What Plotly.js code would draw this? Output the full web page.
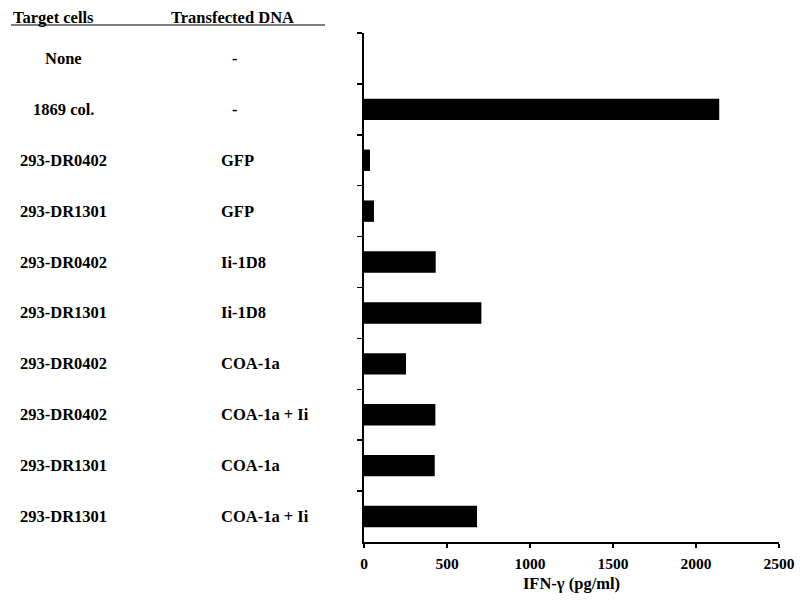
<!DOCTYPE html>
<html>
<head>
<meta charset="utf-8">
<script src="https://cdn.plot.ly/plotly-3.0.1.min.js"></script>
<style>
  html, body { margin: 0; padding: 0; background: #fff; }
  #chart { width: 800px; height: 605px; }
</style>
</head>
<body>
<div id="chart"></div>
<script>
// ---- data ----
const targetCells = ["None", "1869 col.", "293-DR0402", "293-DR1301", "293-DR0402", "293-DR1301",
                     "293-DR0402", "293-DR0402", "293-DR1301", "293-DR1301"];
const transfectedDNA = ["-", "-", "GFP", "GFP", "Ii-1D8", "Ii-1D8",
                        "COA-1a", "COA-1a + Ii", "COA-1a", "COA-1a + Ii"];
const ifnGamma = [0, 2140, 36, 60, 432, 707, 253, 430, 426, 681];
const xTickValues = [0, 500, 1000, 1500, 2000, 2500];
const headerTarget = "Target cells";
const headerDNA = "Transfected DNA";
const xTitle = "IFN-γ (pg/ml)";

// ---- layout helpers ----
const W = 800, H = 605;
const M = { l: 364, r: 21, t: 33, b: 63 };
const plotW = W - M.l - M.r, plotH = H - M.t - M.b;
const px2paperX = px => (px - M.l) / plotW;
const py2paperY = py => 1 - (py - M.t) / plotH;

const FONT = "Liberation Serif, Times New Roman, serif";
const rowIds = targetCells.map((t, i) => i + ": " + t + " / " + transfectedDNA[i]);

const annotations = [];
rowIds.forEach((id, i) => {
  annotations.push({
    xref: "paper", yref: "y", x: px2paperX(63), y: id,
    text: "<b>" + targetCells[i] + "</b>", showarrow: false,
    xanchor: "center", yanchor: "middle",
    font: { family: FONT, size: 16.5, color: "#000" }
  });
  const isDash = transfectedDNA[i] === "-";
  annotations.push({
    xref: "paper", yref: "y", x: px2paperX(isDash ? 235 : 219), y: id,
    text: "<b>" + transfectedDNA[i] + "</b>", showarrow: false,
    xanchor: isDash ? "center" : "left", yanchor: "middle",
    font: { family: FONT, size: 16.5, color: "#000" }
  });
});
annotations.push({
  xref: "paper", yref: "paper", x: px2paperX(11), y: py2paperY(18),
  text: "<b>" + headerTarget + "</b>", showarrow: false,
  xanchor: "left", yanchor: "middle",
  font: { family: FONT, size: 16.5, color: "#000" }
});
annotations.push({
  xref: "paper", yref: "paper", x: px2paperX(169), y: py2paperY(18),
  text: "<b>" + headerDNA + "</b>", showarrow: false,
  xanchor: "left", yanchor: "middle",
  font: { family: FONT, size: 16.5, color: "#000" }
});

const trace = {
  type: "bar",
  orientation: "h",
  y: rowIds,
  x: ifnGamma,
  width: 0.42,
  marker: { color: "#000", line: { width: 0 } },
  hoverinfo: "x"
};

const layout = {
  width: W, height: H,
  margin: M,
  paper_bgcolor: "#fff",
  plot_bgcolor: "#fff",
  showlegend: false,
  font: { family: FONT, color: "#000", size: 15 },
  xaxis: {
    range: [0, 2500],
    tickvals: xTickValues,
    ticktext: xTickValues.map(v => "<b>" + v + "</b>"),
    showgrid: false, zeroline: false,
    showline: true, linecolor: "#000", linewidth: 1.5,
    ticks: "outside", ticklen: 4, tickwidth: 1.5, tickcolor: "#000",
    ticklabelstandoff: 3,
    tickfont: { family: FONT, size: 15.5, color: "#000" },
    title: { text: "<b>" + xTitle + "</b>", standoff: 6,
             font: { family: FONT, size: 16.5, color: "#000" } },
    fixedrange: true
  },
  yaxis: {
    type: "category",
    categoryorder: "array",
    categoryarray: rowIds,
    autorange: "reversed",
    showticklabels: false,
    showgrid: false, zeroline: false,
    showline: true, linecolor: "#000", linewidth: 2,
    ticks: "outside", tickson: "boundaries", ticklen: 5, tickwidth: 1.5, tickcolor: "#000",
    fixedrange: true
  },
  shapes: [{
    type: "line", xref: "paper", yref: "paper",
    x0: px2paperX(11), x1: px2paperX(325),
    y0: py2paperY(25), y1: py2paperY(25),
    line: { color: "#000", width: 1.2 }
  }],
  annotations: annotations
};

Plotly.newPlot("chart", [trace], layout, { displayModeBar: false, staticPlot: true });
</script>
</body>
</html>
